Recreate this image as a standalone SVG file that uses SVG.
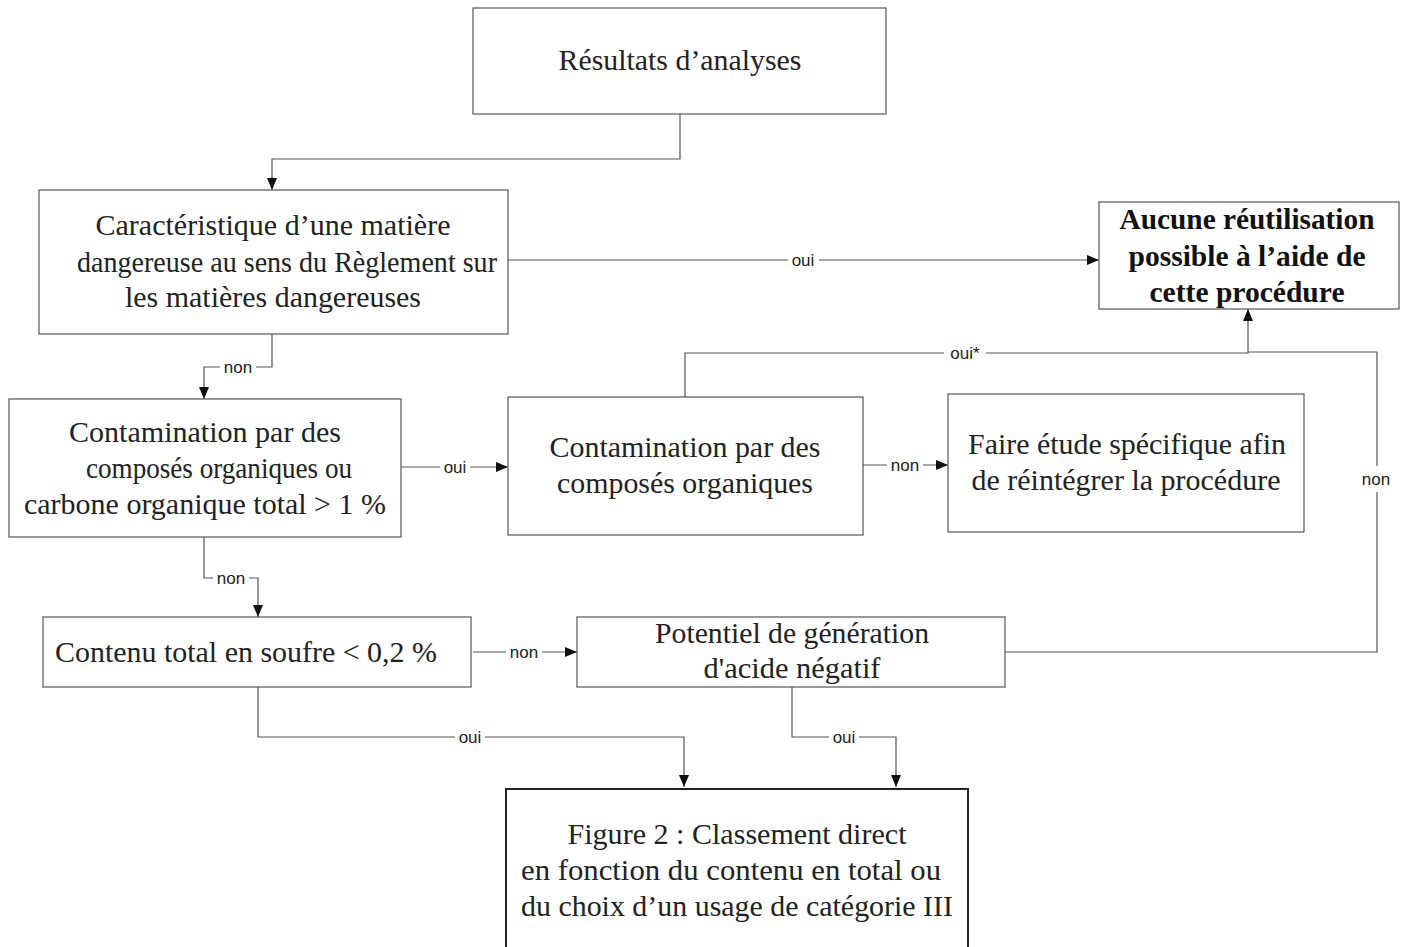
<svg xmlns="http://www.w3.org/2000/svg" width="1407" height="947" viewBox="0 0 1407 947">
<style>
.box{fill:#fff;stroke:#555;stroke-width:1.2}
.thick{stroke:#222;stroke-width:2}
.t{font-family:"Liberation Serif","Times New Roman",serif;font-size:29px;fill:#222;text-anchor:middle}
.c{font-size:30px}
.b{font-weight:bold;fill:#111}
.l{font-family:"Liberation Sans",Arial,sans-serif;font-size:17px;fill:#222;text-anchor:middle}
.ln{fill:none;stroke:#555;stroke-width:1.2}
.bg{fill:#fff}
</style>
<defs>
<marker id="ah" viewBox="0 0 12 10" refX="12" refY="5" markerWidth="12" markerHeight="10" markerUnits="userSpaceOnUse" orient="auto">
<path d="M0,0 L12,5 L0,10 Z" fill="#111"/>
</marker>
</defs>
<rect width="1407" height="947" fill="#fff"/>
<g id="connectors">
<path class="ln" d="M680,114 V159 H272 V190" marker-end="url(#ah)"/>
<path class="ln" d="M508,260 H1099" marker-end="url(#ah)"/>
<path class="ln" d="M272,334 V367 H204 V399" marker-end="url(#ah)"/>
<path class="ln" d="M401,467 H508" marker-end="url(#ah)"/>
<path class="ln" d="M685,397 V353 H1248 V309" marker-end="url(#ah)"/>
<path class="ln" d="M863,465 H948" marker-end="url(#ah)"/>
<path class="ln" d="M1005,652 H1377 V352 H1248"/>
<path class="ln" d="M204,537 V578 H258 V617" marker-end="url(#ah)"/>
<path class="ln" d="M473,652 H577" marker-end="url(#ah)"/>
<path class="ln" d="M258,687 V737 H684 V787" marker-end="url(#ah)"/>
<path class="ln" d="M792,687 V737 H896 V787" marker-end="url(#ah)"/>
<rect class="bg" x="788" y="250" width="31" height="18"/><text class="l" x="803" y="266">oui</text>
<rect class="bg" x="220" y="358" width="36" height="18"/><text class="l" x="238" y="373">non</text>
<rect class="bg" x="440" y="458" width="30" height="18"/><text class="l" x="455" y="473">oui</text>
<rect class="bg" x="944" y="344" width="42" height="18"/><text class="l" x="965" y="359">oui*</text>
<rect class="bg" x="887" y="456" width="36" height="18"/><text class="l" x="905" y="471">non</text>
<rect class="bg" x="1356" y="466" width="40" height="26"/><text class="l" x="1376" y="485">non</text>
<rect class="bg" x="213" y="569" width="36" height="18"/><text class="l" x="231" y="584">non</text>
<rect class="bg" x="506" y="643" width="36" height="18"/><text class="l" x="524" y="658">non</text>
<rect class="bg" x="455" y="728" width="30" height="18"/><text class="l" x="470" y="743">oui</text>
<rect class="bg" x="829" y="728" width="30" height="18"/><text class="l" x="844" y="743">oui</text>
</g>
<g id="n1"><rect class="box" x="473" y="8" width="413" height="106"/><text class="t" x="680" y="70" textLength="243" lengthAdjust="spacingAndGlyphs">Résultats d’analyses</text></g>
<g id="n2"><rect class="box" x="39" y="190" width="469" height="144"/>
<text class="t" x="273" y="235" textLength="355" lengthAdjust="spacingAndGlyphs">Caractéristique d’une matière</text>
<text class="t" x="287" y="272" textLength="420" lengthAdjust="spacingAndGlyphs">dangereuse au sens du Règlement sur</text>
<text class="t" x="273" y="307" textLength="296" lengthAdjust="spacingAndGlyphs">les matières dangereuses</text></g>
<g id="n3"><rect class="box" x="1099" y="202" width="300" height="107"/>
<text class="t b" x="1247" y="229" textLength="255" lengthAdjust="spacingAndGlyphs">Aucune réutilisation</text>
<text class="t b" x="1247" y="266" textLength="237" lengthAdjust="spacingAndGlyphs">possible à l’aide de</text>
<text class="t b" x="1247" y="302" textLength="195" lengthAdjust="spacingAndGlyphs">cette procédure</text></g>
<g id="n4"><rect class="box" x="9" y="399" width="392" height="138"/>
<text class="t" x="205" y="442" textLength="272" lengthAdjust="spacingAndGlyphs">Contamination par des</text>
<text class="t" x="219" y="478" textLength="266" lengthAdjust="spacingAndGlyphs">composés organiques ou</text>
<text class="t" x="205" y="514" textLength="362" lengthAdjust="spacingAndGlyphs">carbone organique total &gt; 1 %</text></g>
<g id="n5"><rect class="box" x="508" y="397" width="355" height="138"/>
<text class="t" x="685" y="457" textLength="271" lengthAdjust="spacingAndGlyphs">Contamination par des</text>
<text class="t" x="685" y="493" textLength="256" lengthAdjust="spacingAndGlyphs">composés organiques</text></g>
<g id="n6"><rect class="box" x="948" y="394" width="356" height="138"/>
<text class="t" x="1127" y="454" textLength="318" lengthAdjust="spacingAndGlyphs">Faire étude spécifique afin</text>
<text class="t" x="1126" y="490" textLength="309" lengthAdjust="spacingAndGlyphs">de réintégrer la procédure</text></g>
<g id="n7"><rect class="box" x="43" y="617" width="428" height="70"/>
<text class="t c" x="246" y="662" textLength="382" lengthAdjust="spacingAndGlyphs">Contenu total en soufre &lt; 0,2 %</text></g>
<g id="n8"><rect class="box" x="577" y="617" width="428" height="70"/>
<text class="t c" x="792" y="643" textLength="274" lengthAdjust="spacingAndGlyphs">Potentiel de génération</text>
<text class="t c" x="792" y="678" textLength="177" lengthAdjust="spacingAndGlyphs">d'acide négatif</text></g>
<g id="n9"><rect class="box thick" x="506" y="789" width="462" height="170"/>
<text class="t" x="737" y="844" textLength="339" lengthAdjust="spacingAndGlyphs">Figure 2 : Classement direct</text>
<text class="t" x="731" y="880" textLength="420" lengthAdjust="spacingAndGlyphs">en fonction du contenu en total ou</text>
<text class="t" x="737" y="916" textLength="432" lengthAdjust="spacingAndGlyphs">du choix d’un usage de catégorie III</text></g>
</svg>
